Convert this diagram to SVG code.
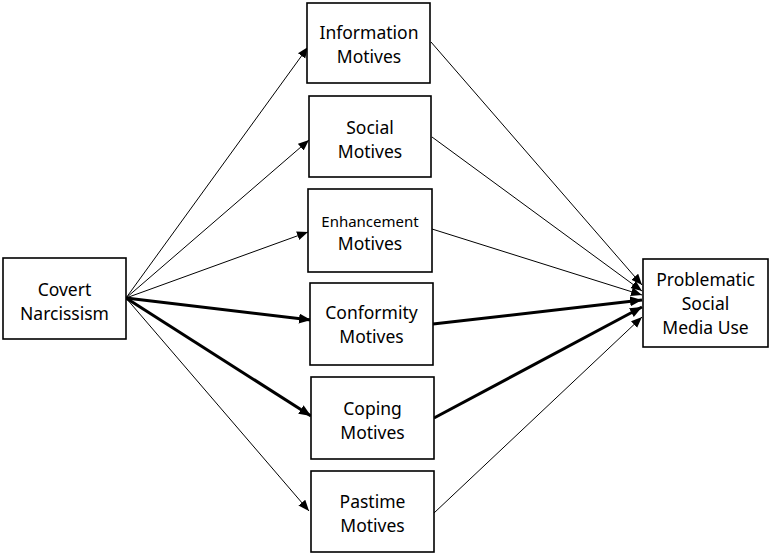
<svg xmlns="http://www.w3.org/2000/svg" width="771" height="556" viewBox="0 0 771 556">
<style>
.box{fill:#fff;stroke:#000;stroke-width:1.6}
.t{font-family:"Noto Sans","Open Sans","DejaVu Sans",sans-serif;font-size:17.5px;text-anchor:middle;fill:#000}
.s{font-size:15px}
.thin{stroke:#000;stroke-width:1;fill:none;marker-end:url(#ah)}
.thick{stroke:#000;stroke-width:3;fill:none;marker-end:url(#ahb)}
</style>
<defs>
<marker id="ah" markerUnits="userSpaceOnUse" markerWidth="12" markerHeight="10" refX="11" refY="4.5" orient="auto"><path d="M0,0 L11,4.5 L0,9 Z" fill="#000"/></marker>
<marker id="ahb" markerUnits="userSpaceOnUse" markerWidth="14" markerHeight="12" refX="12" refY="5" orient="auto"><path d="M0,0 L12,5 L0,10 Z" fill="#000"/></marker>
</defs>
<rect width="771" height="556" fill="#fff"/>
<g id="connectors">
<line class="thin" x1="126" y1="298" x2="308" y2="47"/>
<line class="thin" x1="126" y1="298" x2="309" y2="140"/>
<line class="thin" x1="126" y1="298" x2="308" y2="232"/>
<line class="thick" x1="126" y1="298" x2="311" y2="320"/>
<line class="thick" x1="126" y1="298" x2="311" y2="416"/>
<line class="thin" x1="126" y1="298" x2="309" y2="511"/>
<line class="thin" x1="431" y1="42" x2="642" y2="285"/>
<line class="thin" x1="432" y1="137" x2="642" y2="291"/>
<line class="thin" x1="432" y1="229" x2="642" y2="295"/>
<line class="thick" x1="433" y1="324" x2="642" y2="300"/>
<line class="thick" x1="434" y1="418" x2="642" y2="307"/>
<line class="thin" x1="434" y1="513" x2="642" y2="317"/>
</g>
<g id="covert"><rect class="box" x="3" y="258" width="123" height="81"/><text class="t" x="64.5" y="296">Covert</text><text class="t" x="64.5" y="320">Narcissism</text></g>
<g id="information"><rect class="box" x="307" y="3" width="123" height="80"/><text class="t" x="369" y="39">Information</text><text class="t" x="369" y="63">Motives</text></g>
<g id="social"><rect class="box" x="309" y="96" width="122" height="81"/><text class="t" x="370" y="134">Social</text><text class="t" x="370" y="158">Motives</text></g>
<g id="enhancement"><rect class="box" x="308" y="189" width="124" height="83"/><text class="t s" x="370" y="227">Enhancement</text><text class="t" x="370" y="250">Motives</text></g>
<g id="conformity"><rect class="box" x="310" y="283" width="123" height="82"/><text class="t" x="371.5" y="319">Conformity</text><text class="t" x="371.5" y="343">Motives</text></g>
<g id="coping"><rect class="box" x="311" y="377" width="123" height="82"/><text class="t" x="372.5" y="415">Coping</text><text class="t" x="372.5" y="439">Motives</text></g>
<g id="pastime"><rect class="box" x="311" y="471" width="123" height="81"/><text class="t" x="372.5" y="508">Pastime</text><text class="t" x="372.5" y="532">Motives</text></g>
<g id="problematic"><rect class="box" x="643" y="259" width="125" height="88"/><text class="t" x="705.5" y="286">Problematic</text><text class="t" x="705.5" y="310">Social</text><text class="t" x="705.5" y="334">Media Use</text></g>
</svg>
